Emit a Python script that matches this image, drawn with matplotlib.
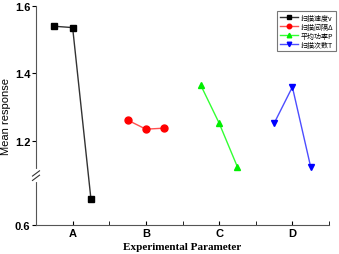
import numpy as np
import matplotlib.pyplot as plt
from matplotlib.scale import FuncScale

plt.rcParams['font.family'] = ['Liberation Sans', 'DejaVu Sans']

# data
groups = ['A', 'B', 'C', 'D']
names = ['扫描速度v', '扫描间隔Δ', '平均功率P', '扫描次数T']
levels = [-0.25, 0.0, 0.25]
speed = [1.540, 1.536, 0.677]
spacing = [1.262, 1.235, 1.238]
power = [1.365, 1.253, 1.123]
passes = [1.252, 1.360, 1.123]

series = [speed, spacing, power, passes]
colors = ['#333333', '#ff5050', '#33ff33', '#4d4dff']
mcolors = ['black', 'red', '#00ee00', 'blue']
markers = ['s', 'o', '^', 'v']

# broken y axis: 0.6-0.745 below the break, 1.096-1.6 above
lo_top, hi_bot = 0.745, 1.096
shift = hi_bot - lo_top

def fwd(y):
    y = np.asarray(y, dtype=float)
    return np.where(y <= lo_top, y, np.where(y >= hi_bot, y - shift, lo_top))

def inv(y):
    y = np.asarray(y, dtype=float)
    return np.where(y <= lo_top, y, y + shift)

fig = plt.figure(figsize=(3.39, 2.55), dpi=100)
ax = fig.add_axes([36/339, 29/255, 293/339, 219/255])
ax.set_yscale(FuncScale(ax, (fwd, inv)))

for i, vals in enumerate(series):
    x = [i + 1 + d for d in levels]
    ax.plot(x, vals, color=colors[i], lw=1, marker=markers[i], ms=5,
            mfc=mcolors[i], mec=mcolors[i], label=names[i])

ax.set_xlim(0.5, 4.5)
ax.set_ylim(0.6, 1.6)
ax.set_xticks([1, 2, 3, 4])
ax.set_xticklabels(groups)
ax.set_xticks([1.5, 2.5, 3.5, 4.5], minor=True)
ax.set_yticks([0.6, 1.2, 1.4, 1.6])
ax.tick_params(axis='x', which='both', direction='in', length=3, labelsize=8, pad=2)
ax.tick_params(axis='y', direction='out', length=3, labelsize=8, pad=1)
for t in ax.get_xticklabels() + ax.get_yticklabels():
    t.set_fontweight('bold')
ax.spines['top'].set_visible(False)
ax.spines['right'].set_visible(False)
for s in ['left', 'bottom']:
    ax.spines[s].set_color('#555555')

# break mark on the y axis (axes fraction of the break)
yb = ax.transLimits.transform(ax.transScale.transform((1.0, lo_top)))[1]
ax.plot([0, 0], [yb - 0.02, yb + 0.025], color='white', lw=3,
        transform=ax.transAxes, clip_on=False, zorder=5)
for off in (-0.008, 0.012):
    ax.plot([-0.012, 0.012], [yb + off - 0.012, yb + off + 0.012],
            color='#333333', lw=0.8, transform=ax.transAxes, clip_on=False, zorder=6)

ax.set_ylabel('Mean response', fontsize=8, labelpad=3)
ax.set_xlabel('Experimental Parameter', fontsize=8, fontfamily='Liberation Serif',
              fontweight='bold', labelpad=3)

leg = ax.legend(loc='upper right', bbox_to_anchor=(1.03, 0.985),
                prop={'family': ['Noto Sans CJK SC', 'DejaVu Sans'], 'size': 5},
                frameon=True, fancybox=False, edgecolor='#555555',
                handlelength=2.6, handletextpad=0.4, borderpad=0.35,
                labelspacing=0.15, markerscale=0.65, borderaxespad=0.3)
leg.get_frame().set_linewidth(0.8)

fig.savefig('out.png', dpi=100)
